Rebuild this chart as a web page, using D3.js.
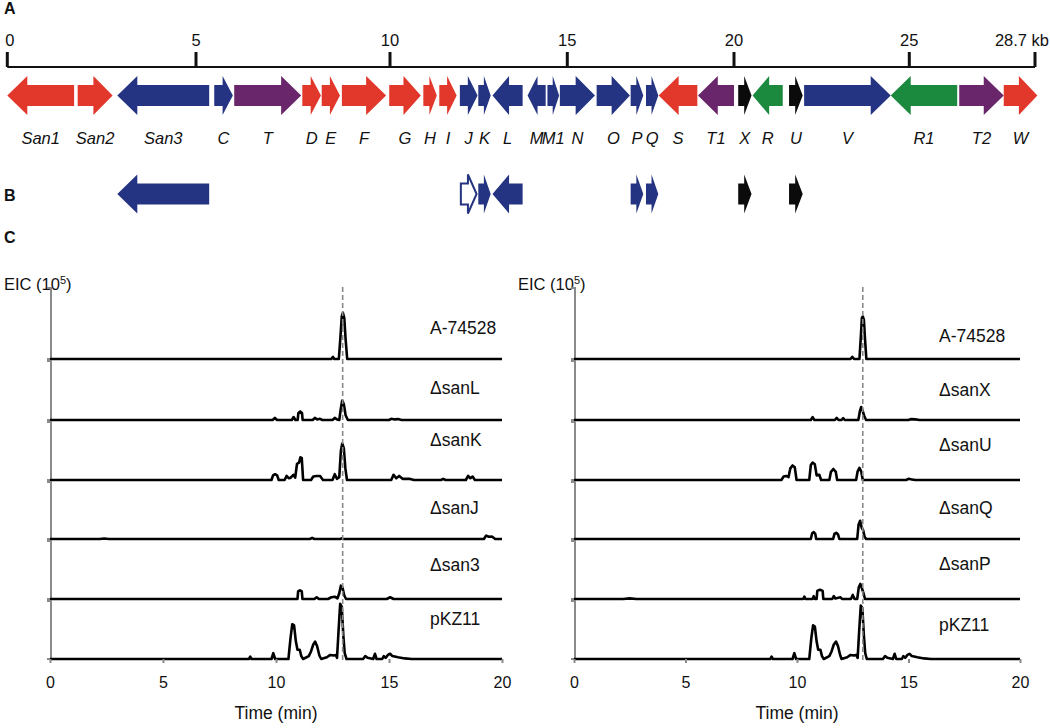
<!DOCTYPE html>
<html><head><meta charset="utf-8">
<script src="https://cdn.jsdelivr.net/npm/d3@7"></script>
<style>
body{margin:0;background:#fff}
svg{display:block}
text{font-family:Arial,"Liberation Sans",Helvetica,sans-serif;fill:#111}
</style>
</head><body>
<svg id="c" width="1050" height="728"></svg>
<script>
// ---------- Panel A / B data ----------
const kbTicks = [0, 5, 10, 15, 20, 25, 28.7];
const kbTickLabels = ["0", "5", "10", "15", "20", "25", "28.7 kb"];
const geneNames  = ["San1","San2","San3","C","T","D","E","F","G","H","I","J","K","L","M","M1","N","O","P","Q","S","T1","X","R","U","V","R1","T2","W"];
const geneStart  = [0, 1.865, 2.915, 5.47, 5.985, 7.74, 8.24, 8.76, 9.98, 10.94, 11.39, 11.97, 12.49, 12.89, 13.88, 14.44, 14.79, 15.88, 16.90, 17.36, 17.74, 18.92, 20.12, 20.53, 21.57, 22.0, 24.47, 26.47, 27.78];
const geneEnd    = [1.77, 2.79, 5.34, 5.95, 7.71, 8.22, 8.71, 9.90, 10.87, 11.32, 11.88, 12.47, 12.84, 13.74, 14.39, 14.77, 15.83, 16.88, 17.28, 17.73, 18.9, 20.0, 20.50, 21.39, 21.96, 24.47, 26.41, 27.78, 28.77];
const geneStrand = [-1, 1, -1, 1, 1, 1, 1, 1, 1, 1, 1, 1, 1, -1, -1, 1, 1, 1, 1, 1, -1, -1, 1, -1, 1, 1, -1, 1, 1];
const geneClass  = ["red","red","blue","blue","purple","red","red","red","red","red","red","blue","blue","blue","blue","blue","blue","blue","blue","blue","red","purple","black","green","black","blue","green","purple","red"];
const deletedGenes = ["San3","J","K","L","P","Q","X","U"];
const openGenes = ["J"];

// ---------- Panel C data ([time min, relative EIC]) ----------
const timeTicks = [0, 5, 10, 15, 20];
const productRT = 12.95;
const leftLabels  = ["A-74528", "ΔsanL", "ΔsanK", "ΔsanJ", "Δsan3", "pKZ11"];
const rightLabels = ["A-74528", "ΔsanX", "ΔsanU", "ΔsanQ", "ΔsanP", "pKZ11"];

const eicA74528L = [[0,0],[12.45,0],[12.52,0.03],[12.58,0],[12.78,0],[12.85,0.3],[12.91,0.6],[12.96,0.65],[13.02,0.58],[13.08,0.28],[13.15,0],[20,0]];
const eicSanL = [[0,0],[9.85,0],[9.95,0.035],[10.05,0],[10.7,0],[10.78,0.05],[10.86,0],[10.96,0],[10.99,0.12],[11.07,0.145],[11.15,0.12],[11.18,0],[11.62,0],[11.72,0.035],[11.82,0.01],[11.95,0.02],[12.05,0],[12.5,0],[12.6,0.035],[12.7,0.01],[12.8,0],[12.87,0.2],[12.93,0.33],[13.0,0.27],[13.08,0.08],[13.18,0],[15.0,0],[15.1,0.02],[15.25,0.01],[15.4,0.015],[15.55,0],[20,0]];
const eicSanK = [[0,0],[9.8,0],[9.87,0.08],[9.96,0.1],[10.05,0.08],[10.12,0],[10.38,0],[10.47,0.07],[10.56,0.03],[10.65,0.04],[10.77,0.09],[10.85,0.04],[10.93,0.28],[11.02,0.3],[11.08,0.39],[11.14,0.38],[11.2,0],[11.55,0],[11.65,0.06],[11.8,0.07],[11.95,0.07],[12.08,0],[12.5,0],[12.6,0.1],[12.7,0.02],[12.8,0.05],[12.87,0.5],[12.93,0.63],[13.0,0.55],[13.07,0.2],[13.14,0],[15.1,0],[15.2,0.09],[15.32,0.03],[15.45,0.07],[15.6,0.02],[15.9,0.02],[16.1,0],[17.3,0],[17.4,0.02],[17.5,0],[18.4,0],[18.5,0.07],[18.6,0.03],[18.7,0.06],[18.8,0],[20,0]];
const eicSanJ = [[0,0],[2.2,0],[2.4,0.01],[2.6,0],[11.5,0],[11.6,0.02],[11.7,0],[12.85,0],[12.9,0.012],[12.95,0],[19.2,0],[19.3,0.06],[19.42,0.04],[19.55,0.045],[19.7,0],[20,0]];
const eicSan3 = [[0,0],[10.95,0],[10.98,0.13],[11.06,0.15],[11.14,0.13],[11.17,0],[11.7,0],[11.8,0.03],[11.9,0],[12.3,0],[12.45,0.03],[12.6,0.04],[12.72,0.01],[12.8,0.1],[12.87,0.23],[12.94,0.2],[13.02,0.06],[13.1,0],[14.9,0],[15.05,0.03],[15.2,0],[20,0]];
const eicPKZ11L = [[0,0],[8.8,0],[8.86,0.04],[8.92,0],[9.8,0],[9.88,0.1],[9.96,0],[10.55,0],[10.64,0.35],[10.72,0.6],[10.8,0.58],[10.88,0.3],[10.95,0.16],[11.05,0.16],[11.12,0.05],[11.2,0],[11.45,0.05],[11.55,0.13],[11.65,0.25],[11.73,0.3],[11.82,0.22],[11.92,0.06],[12.0,0],[12.25,0.03],[12.4,0.07],[12.55,0.06],[12.65,0.07],[12.7,0.02],[12.77,0.5],[12.84,0.95],[12.91,0.9],[12.98,0.4],[13.04,0.1],[13.12,0],[13.85,0],[13.95,0.05],[14.05,0.02],[14.3,0],[14.38,0.09],[14.45,0],[14.7,0],[14.77,0.05],[14.85,0.02],[14.95,0.07],[15.05,0.09],[15.15,0.05],[15.4,0.03],[15.7,0.01],[16.0,0],[20,0]];

const eicA74528R = [[0,0],[12.4,0],[12.48,0.03],[12.56,0],[12.8,0],[12.86,0.3],[12.91,0.58],[12.95,0.6],[13.0,0.55],[13.05,0.28],[13.11,0],[20,0]];
const eicSanX = [[0,0],[10.62,0],[10.7,0.05],[10.78,0],[11.7,0],[11.78,0.035],[11.86,0],[12.0,0],[12.07,0.03],[12.14,0],[12.75,0],[12.82,0.15],[12.88,0.22],[12.95,0.15],[13.02,0.06],[13.1,0],[15.0,0],[15.1,0.015],[15.3,0.01],[15.5,0],[20,0]];
const eicSanU = [[0,0],[9.3,0],[9.4,0.06],[9.52,0.07],[9.62,0.05],[9.7,0.2],[9.8,0.25],[9.9,0.22],[9.98,0],[10.55,0],[10.62,0.26],[10.7,0.3],[10.8,0.27],[10.88,0.08],[11.0,0.09],[11.08,0],[11.45,0],[11.52,0.14],[11.63,0.19],[11.74,0.14],[11.8,0],[12.65,0],[12.72,0.15],[12.8,0.21],[12.88,0.15],[12.95,0],[14.9,0],[15.0,0.02],[15.15,0.01],[15.3,0],[20,0]];
const eicSanQ = [[0,0],[10.62,0],[10.68,0.1],[10.75,0.12],[10.82,0.09],[10.86,0],[11.62,0],[11.68,0.09],[11.76,0.11],[11.84,0.08],[11.9,0],[12.7,0],[12.76,0.25],[12.83,0.32],[12.9,0.2],[12.97,0.15],[13.03,0.04],[13.1,0],[20,0]];
const eicSanP = [[0,0],[2.2,0],[2.5,0.01],[2.8,0],[10.28,0],[10.33,0.04],[10.38,0],[10.7,0],[10.75,0.05],[10.8,0],[10.88,0],[10.91,0.14],[11.03,0.16],[11.15,0.14],[11.18,0],[11.58,0],[11.65,0.05],[11.72,0.01],[11.95,0.03],[12.02,0],[12.42,0],[12.5,0.07],[12.58,0],[12.7,0],[12.77,0.2],[12.84,0.26],[12.9,0.2],[12.98,0.1],[13.05,0],[20,0]];
const eicPKZ11R = [[0,0],[8.8,0],[8.86,0.04],[8.92,0],[9.8,0],[9.88,0.1],[9.96,0],[10.55,0],[10.64,0.35],[10.72,0.58],[10.8,0.56],[10.88,0.3],[10.95,0.16],[11.05,0.16],[11.12,0.05],[11.2,0],[11.45,0.05],[11.55,0.13],[11.65,0.25],[11.75,0.3],[11.84,0.22],[11.94,0.06],[12.0,0],[12.25,0.03],[12.4,0.07],[12.55,0.06],[12.65,0.07],[12.72,0.02],[12.79,0.5],[12.86,0.92],[12.93,0.88],[13.0,0.4],[13.06,0.1],[13.13,0],[13.85,0],[13.95,0.05],[14.05,0.02],[14.3,0],[14.38,0.09],[14.45,0],[14.7,0],[14.77,0.05],[14.85,0.02],[14.95,0.07],[15.05,0.09],[15.15,0.05],[15.4,0.03],[15.7,0.01],[16.0,0],[20,0]];

const leftTraces  = [eicA74528L, eicSanL, eicSanK, eicSanJ, eicSan3, eicPKZ11L];
const rightTraces = [eicA74528R, eicSanX, eicSanU, eicSanQ, eicSanP, eicPKZ11R];

// ---------- layout & style ----------
const colors = {red:"#e2382c", blue:"#243482", purple:"#6a266b", green:"#1c8a3e", black:"#0b0b0b"};
const svg = d3.select("#c");
const FONT = 'Arial,"Liberation Sans",Helvetica,sans-serif';

// piecewise kb scale (figure's ruler is not perfectly linear)
const kb = d3.scaleLinear().domain(kbTicks).range([7.3, 196, 390, 567.3, 734, 909.3, 1035]);

// Section letters
[["A",14],["B",201],["C",243]].forEach(([t,y])=>{
  svg.append("text").attr("x",4).attr("y",y).attr("font-size",16).attr("font-weight","bold").text(t);
});

// Ruler
const axisY = 67;
svg.append("line").attr("x1",kb(0)).attr("x2",kb(28.7)).attr("y1",axisY).attr("y2",axisY)
  .attr("stroke","#111").attr("stroke-width",2);
svg.selectAll(".kbtick").data(kbTicks).enter().append("line")
  .attr("x1",d=>kb(d)).attr("x2",d=>kb(d)).attr("y1",52).attr("y2",axisY)
  .attr("stroke","#111").attr("stroke-width",3);
svg.selectAll(".kblab").data(kbTicks).enter().append("text")
  .attr("x",(d,i)=> i===0 ? kb(d)-2 : (i===kbTicks.length-1 ? 1049 : kb(d)))
  .attr("y",46).attr("font-size",16.5)
  .attr("text-anchor",(d,i)=> i===0 ? "start" : (i===kbTicks.length-1 ? "end" : "middle"))
  .text((d,i)=>kbTickLabels[i]);

function arrowPath(x0, x1, dir, cy){
  const len = x1 - x0;
  const head = Math.min(20, len*0.55);
  const bh = 10.5, hh = 19.5;
  if (dir > 0){
    const hb = x1 - head;
    return `M${x0},${cy-bh}L${hb},${cy-bh}L${hb},${cy-hh}L${x1},${cy}L${hb},${cy+hh}L${hb},${cy+bh}L${x0},${cy+bh}Z`;
  } else {
    const hb = x0 + head;
    return `M${x1},${cy-bh}L${hb},${cy-bh}L${hb},${cy-hh}L${x0},${cy}L${hb},${cy+hh}L${hb},${cy+bh}L${x1},${cy+bh}Z`;
  }
}

const genes = geneNames.map((n,i)=>({name:n, s:geneStart[i], e:geneEnd[i], dir:geneStrand[i], cls:geneClass[i]}));

// Row A genes
svg.append("g").selectAll("path").data(genes).enter().append("path")
  .attr("d",d=>arrowPath(kb(d.s), kb(d.e), d.dir, 95.5))
  .attr("fill",d=>colors[d.cls]);
svg.append("g").selectAll("text").data(genes).enter().append("text")
  .attr("x",d=>(kb(d.s)+kb(d.e))/2).attr("y",144)
  .attr("text-anchor","middle").attr("font-size",16.5).attr("font-style","italic")
  .text(d=>d.name);

// Row B genes
const bGenes = genes.filter(g=>deletedGenes.includes(g.name));
svg.append("g").selectAll("path").data(bGenes).enter().append("path")
  .attr("d",d=>{
    const o = openGenes.includes(d.name);
    return arrowPath(kb(d.s)+(o?1:0), kb(d.e)-(o?1:0), d.dir, 194);
  })
  .attr("fill",d=>openGenes.includes(d.name) ? "#fff" : colors[d.cls])
  .attr("stroke",d=>openGenes.includes(d.name) ? colors[d.cls] : "none")
  .attr("stroke-width",2);

// ---------- Panel C ----------
const panelBase = [359, 420, 480, 539, 599, 659];
const panelTop  = [288, 361, 422, 482, 541, 601];
const leftRise  = [25, 26, 34, 25, 28, 34];
const rightRise = [17, 24, 29, 25, 29, 28];

function drawEIC(xr, labelX, eicX, labels, traces, rise){
  const x = d3.scaleLinear().domain([0,20]).range(xr);
  const g = svg.append("g");
  const t = g.append("text").attr("x",eicX).attr("y",290).attr("font-size",16.5);
  t.append("tspan").text("EIC (10");
  t.append("tspan").attr("font-size",11).attr("dy",-6).text("5");
  t.append("tspan").attr("dy",6).text(")");

  traces.forEach((tr,i)=>{
    const y = d3.scaleLinear().domain([0,1]).range([panelBase[i], panelTop[i]]);
    const bx = x(0) + 1;
    g.append("path")
      .attr("d",`M${bx-4},${panelTop[i]}H${bx}V${panelBase[i]}H${bx-4}`)
      .attr("fill","none").attr("stroke","#8a8a8a").attr("stroke-width",2);
    g.append("path").datum(tr)
      .attr("d", d3.line().x(d=>x(d[0])).y(d=>y(d[1])))
      .attr("fill","none").attr("stroke","#000").attr("stroke-width",2.6)
      .attr("stroke-linejoin","round");
    g.append("text").attr("x",labelX).attr("y",panelBase[i]-rise[i])
      .attr("font-size",17.5).text(labels[i]);
  });

  g.append("line").attr("x1",x(productRT)).attr("x2",x(productRT))
    .attr("y1",287).attr("y2",662)
    .attr("stroke","#8a8a8a").attr("stroke-width",1.6).attr("stroke-dasharray","5,3");

  const ax = g.append("g").attr("transform",`translate(0,${panelBase[5]})`)
    .call(d3.axisBottom(x).tickValues(timeTicks).tickSize(4).tickPadding(14).tickFormat(d3.format("d")));
  ax.select(".domain").remove();
  ax.selectAll(".tick line").attr("stroke","#8a8a8a").attr("stroke-width",2);
  ax.selectAll(".tick text").attr("font-size",16).attr("font-family",FONT).attr("fill","#111");

  g.append("text").attr("x",(xr[0]+xr[1])/2).attr("y",719).attr("text-anchor","middle")
    .attr("font-size",17.5).text("Time (min)");
}

drawEIC([50, 502], 430, 4, leftLabels, leftTraces, leftRise);
drawEIC([574, 1020], 939, 518, rightLabels, rightTraces, rightRise);
</script>
</body></html>
